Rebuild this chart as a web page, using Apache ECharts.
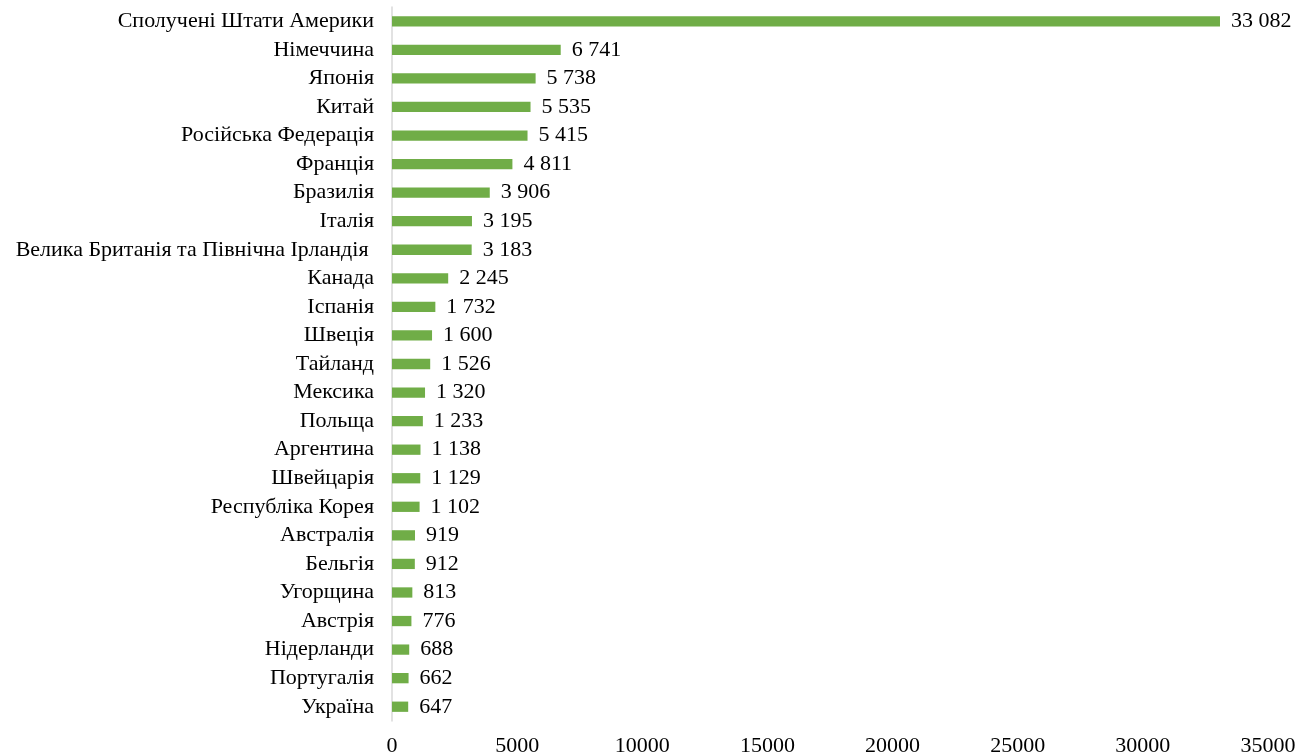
<!DOCTYPE html>
<html>
<head>
<meta charset="utf-8">
<script src="https://cdn.jsdelivr.net/npm/echarts@6/dist/echarts.min.js"></script>
<style>
  html, body { margin: 0; padding: 0; background: #ffffff; }
  #chart { width: 1299px; height: 756px; }
</style>
</head>
<body>
<div id="chart"></div>
<script>
// Countries, top to bottom
const countries = [
  "Сполучені Штати Америки", "Німеччина", "Японія", "Китай", "Російська Федерація",
  "Франція", "Бразилія", "Італія", "Велика Британія та Північна Ірландія ", "Канада",
  "Іспанія", "Швеція", "Тайланд", "Мексика", "Польща",
  "Аргентина", "Швейцарія", "Республіка Корея", "Австралія", "Бельгія",
  "Угорщина", "Австрія", "Нідерланди", "Португалія", "Україна"
];
const values = [
  33082, 6741, 5738, 5535, 5415,
  4811, 3906, 3195, 3183, 2245,
  1732, 1600, 1526, 1320, 1233,
  1138, 1129, 1102, 919, 912,
  813, 776, 688, 662, 647
];
const xTicks = [0, 5000, 10000, 15000, 20000, 25000, 30000, 35000];

const fontFamily = '"Liberation Serif", "Times New Roman", serif';
const fontSize = 22;

// thousands grouped with a space: 33 082
function fmt(v) {
  return String(v).replace(/\B(?=(\d{3})+(?!\d))/g, ' ');
}

const chart = echarts.init(document.getElementById('chart'), null, { renderer: 'canvas' });
chart.setOption({
  animation: false,
  backgroundColor: '#ffffff',
  grid: { left: 392, right: 31, top: 7, bottom: 35, containLabel: false, outerBoundsMode: 'none' },
  xAxis: {
    type: 'value',
    min: xTicks[0],
    max: xTicks[xTicks.length - 1],
    interval: xTicks[1] - xTicks[0],
    axisLine: { show: false },
    axisTick: { show: false },
    splitLine: { show: false },
    axisLabel: {
      margin: 14,
      color: '#000000',
      fontFamily: fontFamily,
      fontSize: fontSize,
      formatter: v => String(v)
    }
  },
  yAxis: {
    type: 'category',
    inverse: true,
    data: countries,
    axisLine: { show: true, lineStyle: { color: '#d9d9d9', width: 1.5 } },
    axisTick: { show: false },
    splitLine: { show: false },
    axisLabel: {
      interval: 0,
      margin: 18,
      color: '#000000',
      fontFamily: fontFamily,
      fontSize: fontSize
    }
  },
  series: [{
    type: 'bar',
    data: values,
    barWidth: '36%',
    itemStyle: { color: '#70ad47' },
    label: {
      show: true,
      position: 'right',
      distance: 11,
      color: '#000000',
      fontFamily: fontFamily,
      fontSize: fontSize,
      formatter: p => fmt(p.value)
    }
  }]
});
</script>
</body>
</html>
